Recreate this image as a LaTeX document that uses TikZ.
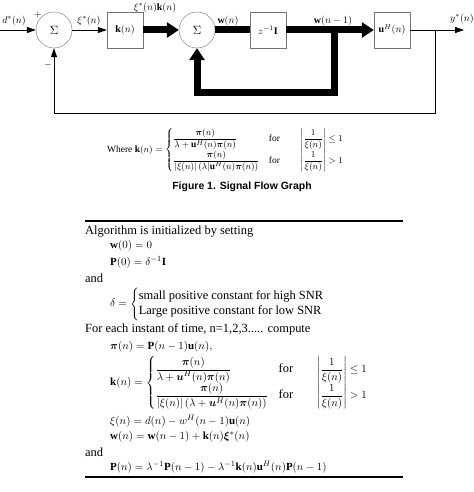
\documentclass[tikz,border=0pt]{standalone}
\usepackage{amsmath}
\usepackage{fontspec}
\setmainfont{Liberation Serif}
\newfontfamily\capfont{Liberation Sans}
\usetikzlibrary{arrows.meta}
\newcommand\algtxt{\fontsize{12.5}{14}\selectfont}

\begin{document}
\begin{tikzpicture}[x=1bp,y=-1bp,
  sumnode/.style={circle,draw=black!55,minimum size=36bp,inner sep=0pt,font=\large},
  blocknode/.style={rectangle,draw=black!55,minimum size=36bp,inner sep=0pt},
  sigline/.style={line width=0.8bp,-{Triangle[length=9bp,width=6bp]}},
  busline/.style={line width=7bp,line join=miter,-{Triangle[length=12bp,width=15bp]}},
  lbl/.style={inner sep=0pt},
  algline/.style={anchor=west,inner sep=0pt,font=\fontsize{11}{13}\selectfont}]
\useasboundingbox (0,0) rectangle (474,492);

% signal flow graph
\node[sumnode] (sumA) at (54,30) {$\Sigma$};
\node[blocknode] (gain) at (125,30) {$\mathbf{k}(n)$};
\node[sumnode] (sumB) at (197,30) {$\Sigma$};
\node[blocknode] (delay) at (268,30) {$z^{-1}\mathbf{I}$};
\node[blocknode] (proj) at (392,30) {$\mathbf{u}^H(n)$};
\coordinate (in) at (0,30);
\coordinate (out) at (464,30);
\coordinate (tapW) at (334,30);
\coordinate (tapY) at (435,30);

\draw[sigline] (in) -- (sumA);
\draw[sigline] (sumA) -- (gain);
\draw[busline] (gain) -- (sumB);
\draw[busline,-] (sumB) -- (delay);
\draw[busline] (delay) -- (proj);
\draw[busline] (tapW) -- ++(0,63) -| (sumB.south);
\draw[sigline] (proj) -- (out);
\draw[sigline] (tapY) -- ++(0,83) -| (sumA.south);

\node[lbl] (lblD) at (14,21) {$d^*(n)$};
\node[lbl] (lblPlus) at (38,15) {$+$};
\node[lbl] (lblMinus) at (48,65) {$-$};
\node[lbl] (lblXi) at (89,21) {$\xi^*(n)$};
\node[lbl] (lblXiK) at (155,8) {$\xi^*(n)\mathbf{k}(n)$};
\node[lbl] (lblW) at (228,21) {$\mathbf{w}(n)$};
\node[lbl] (lblWold) at (333,21) {$\mathbf{w}(n-1)$};
\node[lbl] (lblY) at (462,19) {$y^*(n)$};

% gain definition and caption
\node[anchor=west,inner sep=0pt,font=\fontsize{9.5}{11}\selectfont] (gainDef) at (107,150)
  {Where $\mathbf{k}(n)=\begin{cases}
  \dfrac{\boldsymbol{\pi}(n)}{\lambda+\mathbf{u}^H(n)\boldsymbol{\pi}(n)} & \text{for}\qquad\left|\dfrac{1}{\xi(n)}\right|\le 1\\
  \dfrac{\boldsymbol{\pi}(n)}{|\xi(n)|\,(\lambda|\mathbf{u}^H(n)\boldsymbol{\pi}(n))} & \text{for}\qquad\left|\dfrac{1}{\xi(n)}\right|> 1
  \end{cases}$};
\node[font=\capfont\bfseries\fontsize{10.5}{12}\selectfont] (caption) at (242,187) {Figure 1. Signal Flow Graph};

% algorithm
\coordinate (ruleTL) at (85,221);
\coordinate (ruleTR) at (403,221);
\coordinate (ruleBL) at (85,477);
\coordinate (ruleBR) at (403,477);
\draw[line width=1.2bp] (ruleTL) -- (ruleTR);
\draw[line width=1.2bp] (ruleBL) -- (ruleBR);

\node[algline] (algA) at (85,232) {\algtxt Algorithm is initialized by setting};
\node[algline] (algB) at (110,246) {$\mathbf{w}(0)=0$};
\node[algline] (algC) at (110,262) {$\mathbf{P}(0)=\delta^{-1}\mathbf{I}$};
\node[algline] (algD) at (85,278) {\algtxt and};
\node[algline] (algE) at (110,304) {$\delta=\begin{cases}\text{\algtxt small positive constant for high SNR}\\ \text{\algtxt Large positive constant for low SNR}\end{cases}$};
\node[algline] (algF) at (85,329) {\algtxt For each instant of time, n=1,2,3..... compute};
\node[algline] (algG) at (110,347) {$\boldsymbol{\pi}(n)=\mathbf{P}(n-1)\mathbf{u}(n),$};
\node[algline] (algH) at (110,383) {$\mathbf{k}(n)=\begin{cases}
  \dfrac{\boldsymbol{\pi}(n)}{\lambda+\boldsymbol{u}^H(n)\boldsymbol{\pi}(n)} & \text{\algtxt for}\qquad\left|\dfrac{1}{\xi(n)}\right|\le 1\\
  \dfrac{\boldsymbol{\pi}(n)}{|\xi(n)|\,(\lambda+\boldsymbol{u}^H(n)\boldsymbol{\pi}(n))} & \text{\algtxt for}\qquad\left|\dfrac{1}{\xi(n)}\right|> 1
  \end{cases}$};
\node[algline] (algI) at (110,421) {$\xi(n)=d(n)-w^H(n-1)\mathbf{u}(n)$};
\node[algline] (algJ) at (110,437) {$\mathbf{w}(n)=\mathbf{w}(n-1)+\mathbf{k}(n)\boldsymbol{\xi}^*(n)$};
\node[algline] (algK) at (85,452) {\algtxt and};
\node[algline] (algL) at (110,467) {$\mathbf{P}(n)=\lambda^{-1}\mathbf{P}(n-1)-\lambda^{-1}\mathbf{k}(n)\mathbf{u}^H(n)\mathbf{P}(n-1)$};
\end{tikzpicture}
\end{document}
